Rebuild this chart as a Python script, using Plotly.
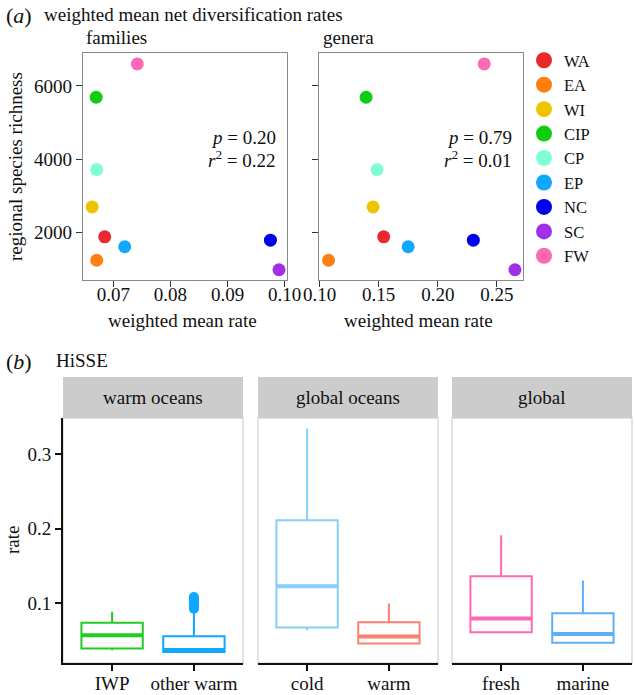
import plotly.graph_objects as go

# ---------------- data ----------------
regions = ["WA", "EA", "WI", "CIP", "CP", "EP", "NC", "SC", "FW"]
region_colors = ["#E8292E", "#FF8010", "#EEC400", "#11CC11", "#80FFD4",
                 "#10A8FF", "#0000EE", "#A030E8", "#FF69B4"]
richness = [1870, 1230, 2690, 5690, 3710, 1600, 1780, 970, 6600]
family_rate = [0.0685, 0.0671, 0.0663, 0.0670, 0.0671, 0.0720, 0.0975, 0.0990, 0.0742]
genus_rate = [0.1542, 0.1076, 0.1452, 0.1393, 0.1486, 0.1749, 0.2300, 0.2652, 0.2392]
fam_stats = ["<i>p</i> = 0.20", "<i>r</i><sup>2</sup> = 0.22"]
gen_stats = ["<i>p</i> = 0.79", "<i>r</i><sup>2</sup> = 0.01"]

facets = ["warm oceans", "global oceans", "global"]
box_facet = [0, 0, 1, 1, 2, 2]
box_pos = [1, 2, 1, 2, 1, 2]
box_labels = ["IWP", "other warm", "cold", "warm", "fresh", "marine"]
box_colors = ["#22CC22", "#10A8FF", "#87CEFA", "#FA8072", "#FF69B4", "#5CB0F8"]
box_lower = [0.0363, 0.0330, 0.0631, 0.0450, 0.0600, 0.0460]
box_q1 = [0.0386, 0.0338, 0.0669, 0.0453, 0.0605, 0.0462]
box_median = [0.0565, 0.0365, 0.1225, 0.0548, 0.0790, 0.0579]
box_q3 = [0.0731, 0.0551, 0.2113, 0.0740, 0.1360, 0.0860]
box_upper = [0.0879, 0.0910, 0.3350, 0.0992, 0.1910, 0.1300]
outlier_box = 1
outlier_values = [0.092, 0.094, 0.096, 0.098, 0.100, 0.102, 0.104, 0.106, 0.108]
BOX_W = 0.75

# ---------------- layout helpers ----------------
W, H = 635, 695
FONT = "Liberation Serif"
TXT = "#111111"


def px(x):
    return x / W


def py(y):
    return 1 - y / H


fig = go.Figure()

# ---------------- panel (a) ----------------
for i, r in enumerate(regions):
    fig.add_trace(go.Scatter(
        x=[family_rate[i]], y=[richness[i]], mode="markers", name=r,
        legendgroup=r, marker=dict(color=region_colors[i], size=13),
        xaxis="x", yaxis="y", showlegend=False, hoverinfo="skip"))
    fig.add_trace(go.Scatter(
        x=[genus_rate[i]], y=[richness[i]], mode="markers", name=r,
        legendgroup=r, marker=dict(color=region_colors[i], size=13),
        xaxis="x2", yaxis="y2", showlegend=False, hoverinfo="skip"))
# legend entries (no visible marks in the plot)
for i, r in enumerate(regions):
    fig.add_trace(go.Scatter(
        x=[None], y=[None], mode="markers", name=r, legendgroup=r,
        marker=dict(color=region_colors[i], size=16),
        xaxis="x", yaxis="y", showlegend=True, hoverinfo="skip"))

frame = dict(showline=True, mirror=True, linecolor="#8a8a8a", linewidth=1.2,
             ticks="outside", ticklen=6, tickwidth=1.2, tickcolor="#333333",
             showgrid=False, zeroline=False, automargin=False,
             tickfont=dict(family=FONT, size=19, color=TXT))
yr = [690, 6900]

layout = dict(
    width=W, height=H, margin=dict(l=0, r=0, t=0, b=0, autoexpand=False),
    paper_bgcolor="white", plot_bgcolor="white",
    font=dict(family=FONT, size=19, color=TXT),
    xaxis=dict(domain=[px(83), px(287)], range=[0.0647, 0.1004],
               tickvals=[0.07, 0.08, 0.09, 0.10], ticklabelstandoff=-9,
               ticktext=["0.07", "0.08", "0.09", "0.10"], anchor="y", **frame),
    yaxis=dict(domain=[py(280), py(53)], range=yr,
               tickvals=[2000, 4000, 6000], anchor="x", **frame),
    xaxis2=dict(domain=[px(319), px(523)], range=[0.0995, 0.272],
                tickvals=[0.10, 0.15, 0.20, 0.25], ticklabelstandoff=-9,
                ticktext=["0.10", "0.15", "0.20", "0.25"], anchor="y2", **frame),
    yaxis2=dict(domain=[py(280), py(53)], range=yr, tickvals=[2000, 4000, 6000],
                showticklabels=False, anchor="x2", **frame),
    legend=dict(x=px(524), y=py(43), xanchor="left", yanchor="top",
                font=dict(family=FONT, size=16.5, color=TXT),
                bgcolor="rgba(0,0,0,0)", borderwidth=0, itemsizing="trace",
                tracegroupgap=0),
    showlegend=True,
)

# ---------------- panel (b) ----------------
facet_x = [(63, 243), (258, 438), (452, 632)]
b_top, b_bot, strip_top = 418, 663, 377
yr_b = [0.019, 0.349]
for k in range(3):
    xa = "xaxis%d" % (k + 3)
    ya = "yaxis%d" % (k + 3)
    idx = [j for j in range(len(box_labels)) if box_facet[j] == k]
    layout[xa] = dict(domain=[px(facet_x[k][0]), px(facet_x[k][1])], range=[0.4, 2.6],
                      tickvals=[box_pos[j] for j in idx],
                      ticktext=[box_labels[j] for j in idx],
                      showline=True, linecolor="#111111", linewidth=2,
                      ticks="outside", ticklen=6, tickwidth=2, tickcolor="#111111",
                      showgrid=False, zeroline=False, anchor="y%d" % (k + 3),
                      automargin=False, ticklabelstandoff=-4,
                      tickfont=dict(family=FONT, size=19, color=TXT))
    layout[ya] = dict(domain=[py(b_bot), py(b_top)], range=yr_b,
                      tickvals=[0.1, 0.2, 0.3], ticktext=["0.1", "0.2", "0.3"],
                      showline=(k == 0), linecolor="#111111", linewidth=2,
                      ticks="outside" if k == 0 else "", ticklen=6, tickwidth=2,
                      tickcolor="#111111", showticklabels=(k == 0),
                      showgrid=False, zeroline=False, anchor="x%d" % (k + 3),
                      automargin=False,
                      tickfont=dict(family=FONT, size=19, color=TXT))

for j in range(len(box_labels)):
    k = box_facet[j]
    xr, yrf = "x%d" % (k + 3), "y%d" % (k + 3)
    fig.add_trace(go.Box(
        x=[box_pos[j]], q1=[box_q1[j]], median=[box_median[j]], q3=[box_q3[j]],
        lowerfence=[box_lower[j]], upperfence=[box_upper[j]],
        width=BOX_W, whiskerwidth=0, boxpoints=False,
        line=dict(color=box_colors[j], width=2), fillcolor="rgba(255,255,255,0)",
        xaxis=xr, yaxis=yrf, showlegend=False, hoverinfo="skip"))
    fig.add_trace(go.Scatter(
        x=[box_pos[j] - BOX_W / 2, box_pos[j] + BOX_W / 2],
        y=[box_median[j], box_median[j]], mode="lines",
        line=dict(color=box_colors[j], width=4), xaxis=xr, yaxis=yrf,
        showlegend=False, hoverinfo="skip"))
    if j == outlier_box:
        fig.add_trace(go.Scatter(
            x=[box_pos[j]] * len(outlier_values), y=outlier_values, mode="markers",
            marker=dict(color=box_colors[j], size=10), xaxis=xr, yaxis=yrf,
            showlegend=False, hoverinfo="skip"))

shapes = []
annotations = []
for k in range(3):
    x0, x1 = facet_x[k]
    shapes.append(dict(type="rect", xref="paper", yref="paper",
                       x0=px(x0), x1=px(x1), y0=py(b_bot), y1=py(b_top),
                       line=dict(color="#D9D9D9", width=1.5), fillcolor="rgba(0,0,0,0)",
                       layer="below"))
    shapes.append(dict(type="rect", xref="paper", yref="paper",
                       x0=px(x0), x1=px(x1), y0=py(b_top), y1=py(strip_top),
                       line=dict(width=0), fillcolor="#CCCCCC", layer="below"))
    annotations.append(dict(text=facets[k], xref="paper", yref="paper",
                            x=px((x0 + x1) / 2), y=py((strip_top + b_top) / 2),
                            xanchor="center", yanchor="middle", showarrow=False,
                            font=dict(family=FONT, size=19, color=TXT)))


def ann(text, x, y, xanchor="left", size=19, angle=0):
    annotations.append(dict(text=text, xref="paper", yref="paper", x=px(x), y=py(y),
                            xanchor=xanchor, yanchor="middle", showarrow=False,
                            textangle=angle, font=dict(family=FONT, size=size, color=TXT)))


ann("(<i>a</i>)", 4, 16, size=22)
ann("weighted mean net diversification rates", 42, 15)
ann("families", 84, 38)
ann("genera", 321, 38)
ann(fam_stats[0], 278, 137, xanchor="right")
ann(fam_stats[1], 278, 159, xanchor="right")
ann(gen_stats[0], 514, 137, xanchor="right")
ann(gen_stats[1], 514, 159, xanchor="right")
ann("weighted mean rate", 182, 321, xanchor="center")
ann("weighted mean rate", 418, 321, xanchor="center")
ann("regional species richness", 15, 167, xanchor="center", angle=-90)
ann("(<i>b</i>)", 4, 361, size=22)
ann("HiSSE", 54, 360)
ann("rate", 12, 540, xanchor="center", angle=-90)

layout["shapes"] = shapes
layout["annotations"] = annotations
fig.update_layout(**layout)
fig.write_html("out.html", config={"displayModeBar": False},
               post_script="document.body.style.margin='0';")
